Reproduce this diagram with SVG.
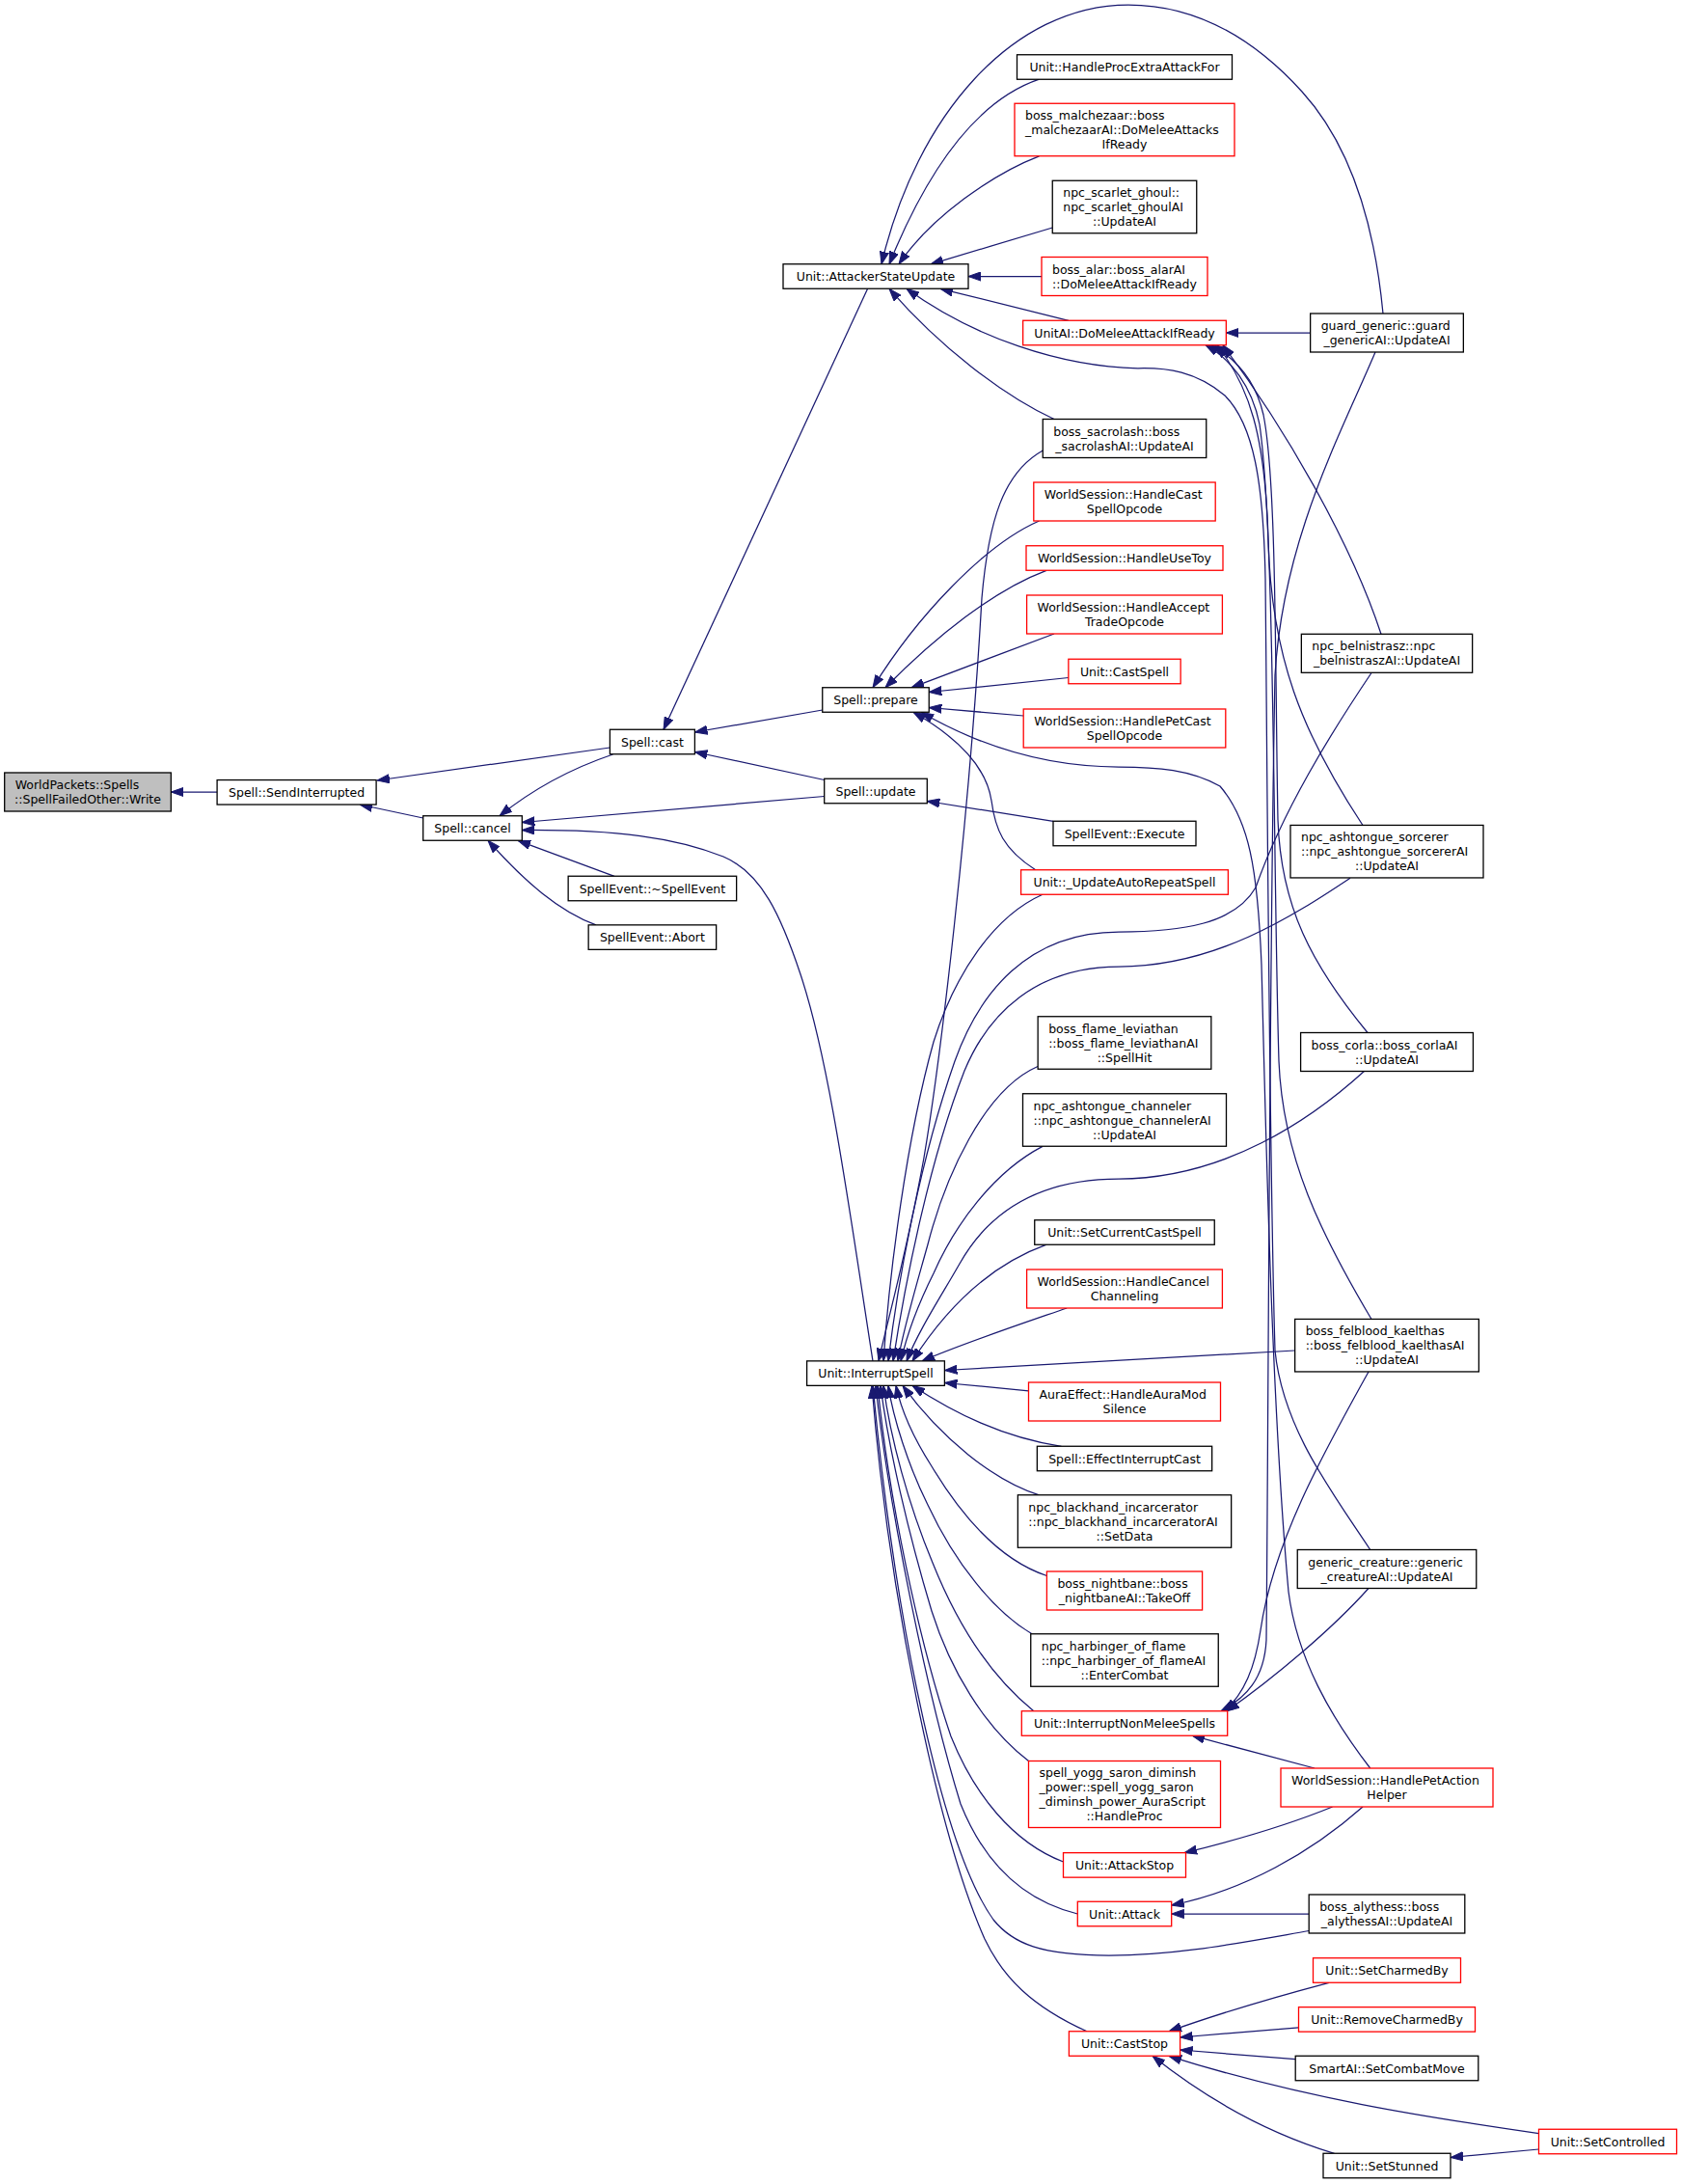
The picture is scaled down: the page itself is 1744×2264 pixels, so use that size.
<svg xmlns="http://www.w3.org/2000/svg" width="1744" height="2264" viewBox="0 0 1744 2264">
<style>
.n rect{fill:#fff;stroke:#000;stroke-width:1.3}
.n.r rect{stroke:#f00}
.n.g rect{fill:#bfbfbf}
text{font-family:"DejaVu Sans","Liberation Sans",sans-serif;font-size:12.5px;fill:#000}
.m{text-anchor:middle}
#edges path{fill:none;stroke:#191970;stroke-width:1.25;marker-end:url(#ah)}
</style>
<defs>
<marker id="ah" viewBox="0 0 13 10" refX="13" refY="5" markerWidth="13" markerHeight="10" markerUnits="userSpaceOnUse" orient="auto">
<path d="M0,0.4 L13,5 L0,9.6 Z" fill="#191970" stroke="#191970" stroke-width="1"/>
</marker>
</defs>
<rect width="1744" height="2264" fill="#fff"/>
<g id="edges">
<path d="M225.1,821 L177.3,821"/>
<path d="M632.4,775 L391,809"/>
<path d="M635.5,782 C600,794 560,812 518,845.8"/>
<path d="M438.7,848 L373,834"/>
<path d="M854.7,825.5 L541.3,852.5"/>
<path d="M905,1410.9 C880,1250 860,1100 830,1010 C810,950 790,905 750,888 C700,868 640,860 541.3,860.5"/>
<path d="M637,908.3 L537,871.3"/>
<path d="M618,958.9 C580,945 545,915 506,871.3"/>
<path d="M899.6,299.3 L688,756.3"/>
<path d="M852.8,736 L720.4,759"/>
<path d="M854.7,808.5 L720.4,779.5"/>
<path d="M1434,325 C1425,230 1400,150 1350,95 C1300,40 1240,5 1170,5 C1050,5 950,120 914,273.8"/>
<path d="M1077.5,82.2 C1010,105 960,180 922,273.8"/>
<path d="M1077.5,161.8 C1030,180 965,225 932,273.8"/>
<path d="M1091.3,236 L965,273.8"/>
<path d="M1080,286.5 L1004,286.5"/>
<path d="M1108,332.3 L975,299.3"/>
<path d="M1093,434.5 C1040,410 975,360 922,299.3"/>
<path d="M1420.7,1606.5 C1380,1545 1330,1480 1322,1400 C1316,1200 1314,800 1312,600 C1310,500 1300,440 1270,410 C1240,385 1210,381 1180,381.8 C1100,380 1010,350 940,299.3"/>
<path d="M1358.7,345 L1271.4,345"/>
<path d="M1432,657.3 C1400,560 1330,440 1268,357.8"/>
<path d="M1413,855.5 C1350,760 1318,680 1315,560 C1312,450 1295,400 1262,357.8"/>
<path d="M1418,1070.5 C1360,1000 1328,940 1325,850 C1322,700 1324,500 1310,430 C1302,395 1282,372 1256,357.8"/>
<path d="M1422,1367.5 C1370,1280 1330,1200 1326,1100 C1320,900 1322,550 1306,440 C1298,400 1276,372 1250,357.8"/>
<path d="M1426,365 C1390,450 1330,560 1322,700 C1316,1000 1315,1500 1313,1700 C1311,1740 1292,1760 1266,1773.8"/>
<path d="M1419,1422 C1370,1510 1320,1600 1307,1690 C1301,1730 1290,1755 1270,1773.8"/>
<path d="M1419,1646.5 C1380,1690 1320,1740 1272,1773.8"/>
<path d="M1363,1833 L1236,1799.2"/>
<path d="M1381.6,1873 C1340,1890 1280,1908 1228,1920.7"/>
<path d="M1413,1873 C1360,1920 1290,1960 1214.7,1975"/>
<path d="M1357.2,1984 L1214.7,1984"/>
<path d="M1357.2,2001.5 C1280,2015 1220,2027 1150,2027 C1080,2027 1050,2015 1030,1990 C980,1920 930,1700 905,1436.4"/>
<path d="M1420.7,1833 C1380,1780 1345,1720 1336,1650 C1318,1450 1312,1150 1308,1000 C1304,900 1295,850 1265,815 C1235,798 1200,795 1160,795 C1080,795 1010,770 955,738.3"/>
<path d="M1092,851.3 L961.3,830.5"/>
<path d="M1073.7,901.8 C1040,880 1032,860 1028,830 C1022,790 985,760 947,738.3"/>
<path d="M1061.2,742 L963.3,733.5"/>
<path d="M1107.9,702.5 L963.3,717.5"/>
<path d="M1093,657 L945,712.8"/>
<path d="M1085,591.3 C1030,612 970,660 918,712.8"/>
<path d="M1077.5,540 C1020,565 950,640 905,712.8"/>
<path d="M1081.3,467 C1040,490 1025,540 1018,620 C1005,850 975,1100 958,1200 C940,1300 920,1370 911,1410.9"/>
<path d="M1081,927.3 C1030,950 990,1010 968,1080 C940,1180 922,1320 916,1410.9"/>
<path d="M1422,697.5 C1380,760 1330,840 1302,920 C1280,958 1225,966 1160,966 C1065,966 1015,1030 990,1100 C955,1200 932,1320 921,1410.9"/>
<path d="M1400,910.2 C1340,950 1260,1002 1160,1002 C1075,1002 1025,1050 1000,1110 C965,1200 940,1320 926,1410.9"/>
<path d="M1076,1105.5 C1020,1130 980,1220 962,1290 C948,1340 936,1380 931,1410.9"/>
<path d="M1081,1188.4 C1030,1215 990,1270 968,1320 C952,1352 940,1385 934,1410.9"/>
<path d="M1414.4,1110.5 C1360,1160 1270,1222 1160,1222 C1070,1222 1022,1262 995,1310 C975,1345 952,1380 940,1410.9"/>
<path d="M1085.2,1290.2 C1030,1310 985,1350 946,1410.9"/>
<path d="M1106.2,1356 C1060,1372 1000,1392 956,1410.9"/>
<path d="M1342.6,1400 L979.4,1420.5"/>
<path d="M1066.5,1441.8 L979.4,1433.5"/>
<path d="M1100.5,1499.3 C1040,1490 990,1465 946,1436.4"/>
<path d="M1077.5,1549.8 C1030,1535 975,1490 936,1436.4"/>
<path d="M1085.4,1633.5 C1030,1615 990,1560 966,1520 C950,1495 935,1465 929,1436.4"/>
<path d="M1070,1693.8 C1030,1670 990,1620 962,1560 C942,1520 926,1470 921,1436.4"/>
<path d="M1071.8,1773.8 C1030,1740 995,1690 967,1620 C942,1560 923,1490 916,1436.4"/>
<path d="M1066.5,1825.5 C1020,1790 985,1730 966,1670 C942,1590 921,1500 913,1436.4"/>
<path d="M1102.5,1930 C1050,1910 1010,1860 986,1800 C952,1700 921,1550 910,1436.4"/>
<path d="M1117.3,1984 C1060,1970 1020,1930 996,1870 C962,1760 921,1560 908,1436.4"/>
<path d="M1127,2105.8 C1070,2080 1040,2050 1021,2010 C972,1900 921,1650 904,1436.4"/>
<path d="M1378,2055.3 C1330,2068 1270,2085 1212,2105.8"/>
<path d="M1346.5,2101.8 L1223.6,2112"/>
<path d="M1343.2,2134.7 L1223.6,2125"/>
<path d="M1595.5,2211.6 C1480,2195 1350,2175 1212,2131.3"/>
<path d="M1383.5,2232.3 C1310,2210 1250,2175 1195,2131.3"/>
<path d="M1595.5,2228 L1504,2236.5"/>
</g>
<g id="n_wp" class="n g"><rect x="4.7" y="801" width="172.6" height="40"/><text x="15.7" y="818">WorldPackets::Spells</text><text class="m" x="91" y="833">::SpellFailedOther::Write</text></g>
<g id="n_sendint" class="n"><rect x="225.1" y="808.55" width="165" height="25.5"/><text class="m" x="307.6" y="825.8">Spell::SendInterrupted</text></g>
<g id="n_cancel" class="n"><rect x="438.7" y="845.75" width="102.6" height="25.5"/><text class="m" x="490" y="863">Spell::cancel</text></g>
<g id="n_cast" class="n"><rect x="632.4" y="756.25" width="88" height="25.5"/><text class="m" x="676.4" y="773.5">Spell::cast</text></g>
<g id="n_dtor" class="n"><rect x="589.15" y="908.25" width="174.5" height="25.5"/><text class="m" x="676.4" y="925.5">SpellEvent::~SpellEvent</text></g>
<g id="n_abort" class="n"><rect x="610.15" y="958.85" width="132.5" height="25.5"/><text class="m" x="676.4" y="976.1">SpellEvent::Abort</text></g>
<g id="n_asu" class="n"><rect x="812" y="273.75" width="192" height="25.5"/><text class="m" x="908" y="291">Unit::AttackerStateUpdate</text></g>
<g id="n_prepare" class="n"><rect x="852.75" y="712.75" width="110.5" height="25.5"/><text class="m" x="908" y="730">Spell::prepare</text></g>
<g id="n_update" class="n"><rect x="854.7" y="807.25" width="106.6" height="25.5"/><text class="m" x="908" y="824.5">Spell::update</text></g>
<g id="n_intspell" class="n"><rect x="836.6" y="1410.85" width="142.8" height="25.5"/><text class="m" x="908" y="1428.1">Unit::InterruptSpell</text></g>
<g id="n_procextra" class="n"><rect x="1054.5" y="56.75" width="223" height="25.5"/><text class="m" x="1166" y="74">Unit::HandleProcExtraAttackFor</text></g>
<g id="n_malch" class="n r"><rect x="1052" y="107.25" width="228" height="54.5"/><text x="1063" y="124">boss_malchezaar::boss</text><text x="1063" y="139">_malchezaarAI::DoMeleeAttacks</text><text class="m" x="1166" y="154">IfReady</text></g>
<g id="n_scarlet" class="n"><rect x="1091.25" y="187.25" width="149.5" height="54.5"/><text x="1102.25" y="204">npc_scarlet_ghoul::</text><text x="1102.25" y="219">npc_scarlet_ghoulAI</text><text class="m" x="1166" y="234">::UpdateAI</text></g>
<g id="n_alar" class="n r"><rect x="1080" y="266.5" width="172" height="40"/><text x="1091" y="283.5">boss_alar::boss_alarAI</text><text class="m" x="1166" y="298.5">::DoMeleeAttackIfReady</text></g>
<g id="n_unitai" class="n r"><rect x="1060.65" y="332.25" width="210.7" height="25.5"/><text class="m" x="1166" y="349.5">UnitAI::DoMeleeAttackIfReady</text></g>
<g id="n_sacro" class="n"><rect x="1081.25" y="434.5" width="169.5" height="40"/><text x="1092.25" y="451.5">boss_sacrolash::boss</text><text class="m" x="1166" y="466.5">_sacrolashAI::UpdateAI</text></g>
<g id="n_hcast" class="n r"><rect x="1071.8" y="500" width="188.4" height="40"/><text x="1082.8" y="517">WorldSession::HandleCast</text><text class="m" x="1166" y="532">SpellOpcode</text></g>
<g id="n_usetoy" class="n r"><rect x="1064" y="565.75" width="204" height="25.5"/><text class="m" x="1166" y="583">WorldSession::HandleUseToy</text></g>
<g id="n_trade" class="n r"><rect x="1064.6" y="617" width="202.8" height="40"/><text x="1075.6" y="634">WorldSession::HandleAccept</text><text class="m" x="1166" y="649">TradeOpcode</text></g>
<g id="n_castspell" class="n r"><rect x="1107.85" y="683.25" width="116.3" height="25.5"/><text class="m" x="1166" y="700.5">Unit::CastSpell</text></g>
<g id="n_petcast" class="n r"><rect x="1061.2" y="735" width="209.6" height="40"/><text x="1072.2" y="752">WorldSession::HandlePetCast</text><text class="m" x="1166" y="767">SpellOpcode</text></g>
<g id="n_execute" class="n"><rect x="1092" y="851.25" width="148" height="25.5"/><text class="m" x="1166" y="868.5">SpellEvent::Execute</text></g>
<g id="n_autorep" class="n r"><rect x="1058.6" y="901.75" width="214.8" height="25.5"/><text class="m" x="1166" y="919">Unit::_UpdateAutoRepeatSpell</text></g>
<g id="n_flame" class="n"><rect x="1076.15" y="1053.75" width="179.7" height="54.5"/><text x="1087.15" y="1070.5">boss_flame_leviathan</text><text x="1087.15" y="1085.5">::boss_flame_leviathanAI</text><text class="m" x="1166" y="1100.5">::SpellHit</text></g>
<g id="n_channeler" class="n"><rect x="1060.5" y="1133.75" width="211" height="54.5"/><text x="1071.5" y="1150.5">npc_ashtongue_channeler</text><text x="1071.5" y="1165.5">::npc_ashtongue_channelerAI</text><text class="m" x="1166" y="1180.5">::UpdateAI</text></g>
<g id="n_setcur" class="n"><rect x="1072.75" y="1264.75" width="186.5" height="25.5"/><text class="m" x="1166" y="1282">Unit::SetCurrentCastSpell</text></g>
<g id="n_cancelch" class="n r"><rect x="1064.6" y="1316" width="202.8" height="40"/><text x="1075.6" y="1333">WorldSession::HandleCancel</text><text class="m" x="1166" y="1348">Channeling</text></g>
<g id="n_silence" class="n r"><rect x="1066.5" y="1433" width="199" height="40"/><text x="1077.5" y="1450">AuraEffect::HandleAuraMod</text><text class="m" x="1166" y="1465">Silence</text></g>
<g id="n_effint" class="n"><rect x="1075.35" y="1499.25" width="181.3" height="25.5"/><text class="m" x="1166" y="1516.5">Spell::EffectInterruptCast</text></g>
<g id="n_blackhand" class="n"><rect x="1055.35" y="1549.75" width="221.3" height="54.5"/><text x="1066.35" y="1566.5">npc_blackhand_incarcerator</text><text x="1066.35" y="1581.5">::npc_blackhand_incarceratorAI</text><text class="m" x="1166" y="1596.5">::SetData</text></g>
<g id="n_nightbane" class="n r"><rect x="1085.4" y="1629" width="161.2" height="40"/><text x="1096.4" y="1646">boss_nightbane::boss</text><text class="m" x="1166" y="1661">_nightbaneAI::TakeOff</text></g>
<g id="n_harbinger" class="n"><rect x="1068.75" y="1693.75" width="194.5" height="54.5"/><text x="1079.75" y="1710.5">npc_harbinger_of_flame</text><text x="1079.75" y="1725.5">::npc_harbinger_of_flameAI</text><text class="m" x="1166" y="1740.5">::EnterCombat</text></g>
<g id="n_inm" class="n r"><rect x="1059.3" y="1773.75" width="213.4" height="25.5"/><text class="m" x="1166" y="1791">Unit::InterruptNonMeleeSpells</text></g>
<g id="n_yogg" class="n r"><rect x="1066.5" y="1825.5" width="199" height="69"/><text x="1077.5" y="1842">spell_yogg_saron_diminsh</text><text x="1077.5" y="1857">_power::spell_yogg_saron</text><text x="1077.5" y="1872">_diminsh_power_AuraScript</text><text class="m" x="1166" y="1887">::HandleProc</text></g>
<g id="n_attackstop" class="n r"><rect x="1102.5" y="1920.65" width="127" height="25.5"/><text class="m" x="1166" y="1937.9">Unit::AttackStop</text></g>
<g id="n_attack" class="n r"><rect x="1117.3" y="1971.25" width="97.4" height="25.5"/><text class="m" x="1166" y="1988.5">Unit::Attack</text></g>
<g id="n_caststop" class="n r"><rect x="1108.4" y="2105.75" width="115.2" height="25.5"/><text class="m" x="1166" y="2123">Unit::CastStop</text></g>
<g id="n_guard" class="n"><rect x="1358.65" y="325" width="158.7" height="40"/><text x="1369.65" y="342">guard_generic::guard</text><text class="m" x="1438" y="357">_genericAI::UpdateAI</text></g>
<g id="n_beln" class="n"><rect x="1349.35" y="657.3" width="177.3" height="40"/><text x="1360.35" y="674.3">npc_belnistrasz::npc</text><text class="m" x="1438" y="689.3">_belnistraszAI::UpdateAI</text></g>
<g id="n_sorcerer" class="n"><rect x="1338" y="855.45" width="200" height="54.5"/><text x="1349" y="872.2">npc_ashtongue_sorcerer</text><text x="1349" y="887.2">::npc_ashtongue_sorcererAI</text><text class="m" x="1438" y="902.2">::UpdateAI</text></g>
<g id="n_corla" class="n"><rect x="1348.6" y="1070.5" width="178.8" height="40"/><text x="1359.6" y="1087.5">boss_corla::boss_corlaAI</text><text class="m" x="1438" y="1102.5">::UpdateAI</text></g>
<g id="n_felblood" class="n"><rect x="1342.65" y="1367.45" width="190.7" height="54.5"/><text x="1353.65" y="1384.2">boss_felblood_kaelthas</text><text x="1353.65" y="1399.2">::boss_felblood_kaelthasAI</text><text class="m" x="1438" y="1414.2">::UpdateAI</text></g>
<g id="n_generic" class="n"><rect x="1345.25" y="1606.5" width="185.5" height="40"/><text x="1356.25" y="1623.5">generic_creature::generic</text><text class="m" x="1438" y="1638.5">_creatureAI::UpdateAI</text></g>
<g id="n_petaction" class="n r"><rect x="1328" y="1833" width="220" height="40"/><text x="1339" y="1850">WorldSession::HandlePetAction</text><text class="m" x="1438" y="1865">Helper</text></g>
<g id="n_alythess" class="n"><rect x="1357.2" y="1964" width="161.6" height="40"/><text x="1368.2" y="1981">boss_alythess::boss</text><text class="m" x="1438" y="1996">_alythessAI::UpdateAI</text></g>
<g id="n_charmed" class="n r"><rect x="1361.5" y="2029.75" width="153" height="25.5"/><text class="m" x="1438" y="2047">Unit::SetCharmedBy</text></g>
<g id="n_removecharmed" class="n r"><rect x="1346.5" y="2080.65" width="183" height="25.5"/><text class="m" x="1438" y="2097.9">Unit::RemoveCharmedBy</text></g>
<g id="n_smartai" class="n"><rect x="1343.2" y="2131.25" width="189.6" height="25.5"/><text class="m" x="1438" y="2148.5">SmartAI::SetCombatMove</text></g>
<g id="n_stunned" class="n"><rect x="1372" y="2232.25" width="132" height="25.5"/><text class="m" x="1438" y="2249.5">Unit::SetStunned</text></g>
<g id="n_controlled" class="n r"><rect x="1595.5" y="2207.25" width="143" height="25.5"/><text class="m" x="1667" y="2224.5">Unit::SetControlled</text></g>
</svg>
